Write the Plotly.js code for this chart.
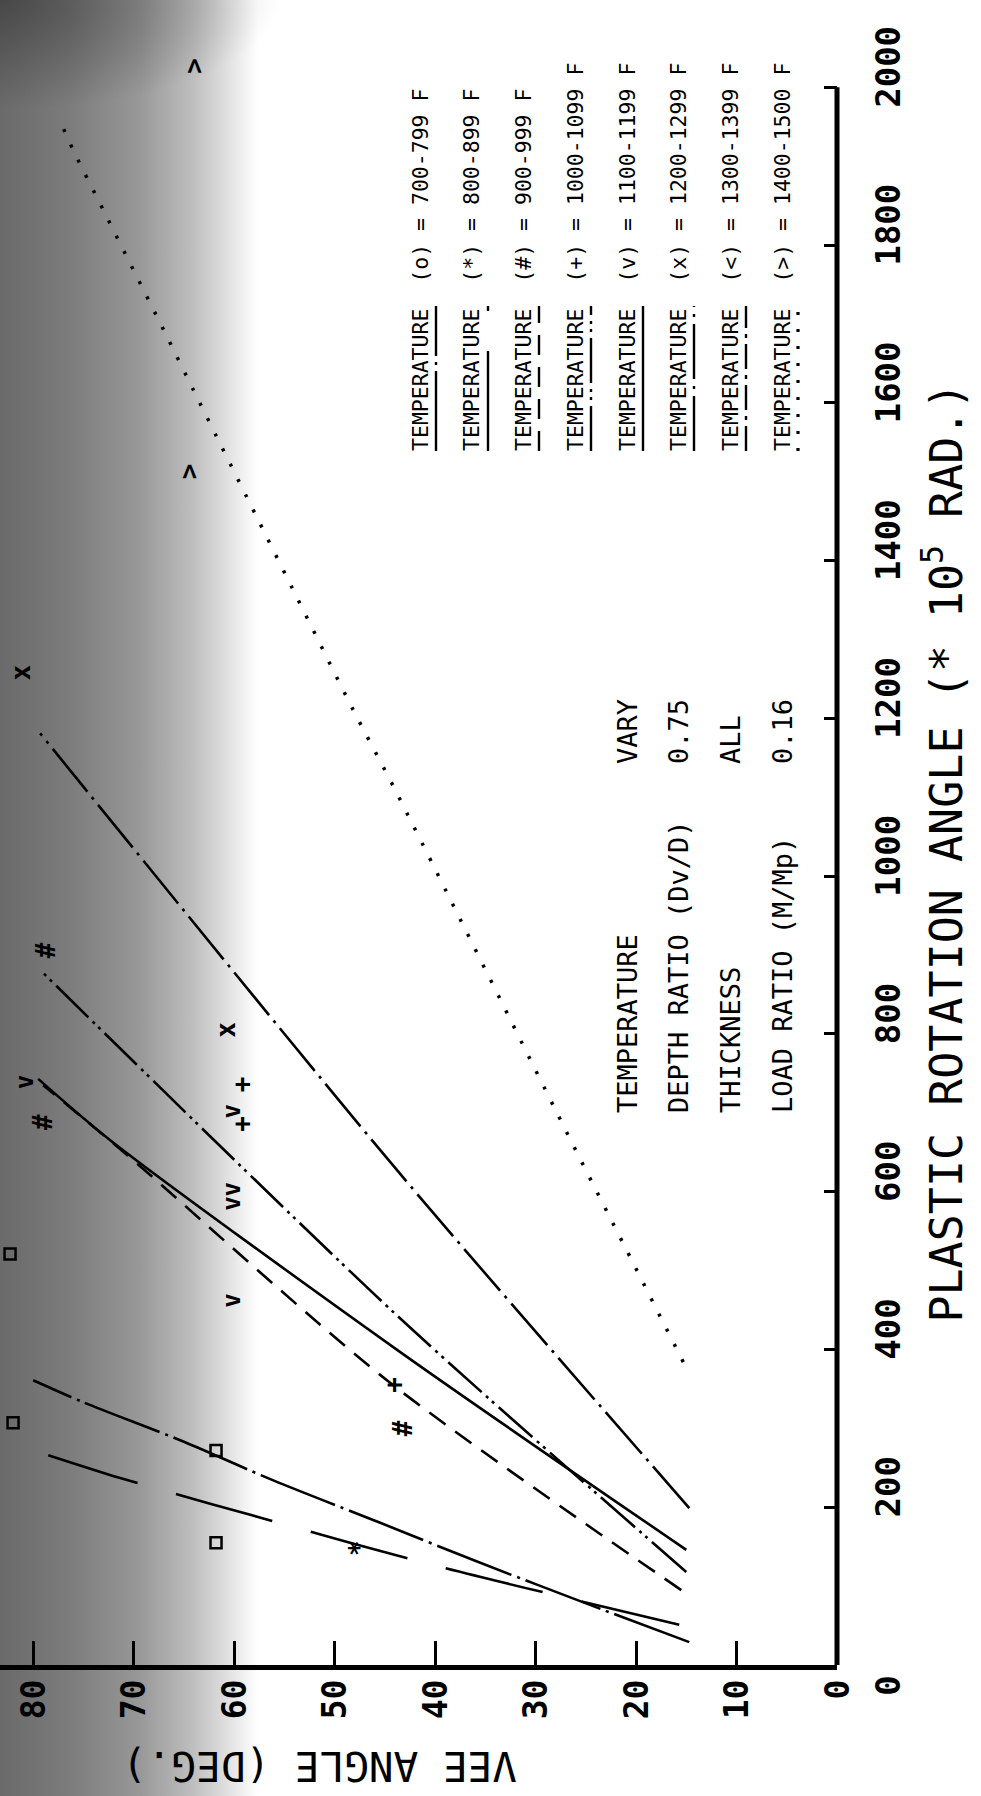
<!DOCTYPE html>
<html><head><meta charset="utf-8">
<script src="https://cdn.plot.ly/plotly-3.0.1.min.js"></script>
<style>
html,body{margin:0;padding:0;width:981px;height:1796px;overflow:hidden;}
body{background:
  radial-gradient(ellipse 280px 110px at 0px 0px, rgba(30,30,30,0.45), rgba(30,30,30,0)),
  linear-gradient(to right,#6a6a6a 0px,#7c7c7c 70px,#989898 140px,#c0c0c0 195px,#e8e8e8 235px,#ffffff 258px);}
#wrap{position:absolute;left:0;top:0;width:1796px;height:981px;transform-origin:0 0;transform:translate(0px,1796px) rotate(-90deg);}
</style></head><body><div id="wrap"><div id="chart"></div></div>
<script>
// ---- data (x = plastic rotation angle *1e5 rad, y = vee angle deg) ----
const xTicks = [0,200,400,600,800,1000,1200,1400,1600,1800,2000];
const yTicks = [0,10,20,30,40,50,60,70,80];

const t700_x = [29,70,133,180,234,283,333,361];
const t700_y = [14.7,23.3,36.2,45.4,56.1,65.0,75.0,80.0];
const t800_x = [51,127,190,224,238,266];
const t800_y = [15.7,40.3,58.3,67.8,71.6,78.5];
const t900_x = [95,360,646,735];
const t900_y = [15.5,44.7,70.6,79.0];
const t1000_x = [118,442,881];
const t1000_y = [15.0,43.7,79.3];
const t1100_x = [146,397,665,743];
const t1100_y = [15.0,43.5,72.3,79.5];
const t1200_x = [199,626,1181];
const t1200_y = [14.7,43.7,79.3];
const t1400_x = [384,530,655,1110,1212,1352,1454,1556,1615,1692,1768,1844,1920,1957];
const t1400_y = [15.3,21.1,26.1,44.0,48.2,53.7,57.7,61.7,64.0,67.0,70.0,73.0,76.0,77.3];

const p700_x = [155,272,307,521];   const p700_y = [61.8,61.8,82.0,82.3];
const p800_x = [148];               const p800_y = [47.3];
const p900_x = [300,688,906];       const p900_y = [42.9,78.8,78.5];
const p1000_x = [355,686,736];      const p1000_y = [43.8,59.0,59.0];
const p1100_x = [462,585,603,702,739]; const p1100_y = [60.0,60.0,60.0,60.0,80.6];
const p1200_x = [805,1258];         const p1200_y = [60.6,81.0];
const p1400_x = [1513,2027];        const p1400_y = [64.2,63.7];

const legendRanges = ['700-799','800-899','900-999','1000-1099','1100-1199','1200-1299','1300-1399','1400-1500'];
const legendSymbols = ['o','*','#','+','v','x','&lt;','&gt;'];
const paramLabels = ['TEMPERATURE','DEPTH RATIO (Dv/D)','THICKNESS','LOAD RATIO (M/Mp)'];
const paramValues = ['VARY','0.75','ALL','0.16'];

// ---- styles ----
const W = 1796, H = 981;
const ML = 131, MR = 40, MT = 0, MB = 144;
const PW = W - ML - MR, PH = H - MT - MB;
const px = u => (u - ML) / PW;
const py = v => (MT + PH - v) / PH;
const MONO = 'DejaVu Sans Mono';
const NB = '\u00a0';
const dashes = ['80px,6px,3px,6px','100px,40px','20px,12px','45px,6px,3px,5px,3px,6px','solid','55px,7px,3px,7px','25px,6px,4px,6px','3px,14px'];

function lineTrace(x, y, dash, w) {
  return {x:x, y:y, mode:'lines', type:'scatter', cliponaxis:false, hoverinfo:'skip',
    line:{color:'#000', width:w||2.6, dash:dash, shape:'spline', smoothing:0.8}};
}
function textTrace(x, y, ch, size) {
  return {x:x, y:y, mode:'text', type:'scatter', cliponaxis:false, hoverinfo:'skip',
    text:x.map(()=>ch), textposition:'middle center',
    textfont:{family:MONO, size:size||24, color:'#000', weight:'bold'}};
}

const traces = [
  lineTrace(t700_x, t700_y, dashes[0]),
  lineTrace(t800_x, t800_y, dashes[1]),
  lineTrace(t900_x, t900_y, dashes[2]),
  lineTrace(t1000_x, t1000_y, dashes[3]),
  lineTrace(t1100_x, t1100_y, dashes[4]),
  lineTrace(t1200_x, t1200_y, dashes[5]),
  lineTrace(t1400_x, t1400_y, dashes[7], 3.5),
  {x:p700_x, y:p700_y, mode:'markers', type:'scatter', cliponaxis:false, hoverinfo:'skip',
   marker:{symbol:'square-open', size:11, color:'#000', line:{width:2.5, color:'#000'}}},
  textTrace(p800_x, p800_y, '*', 26),
  textTrace(p900_x, p900_y, '#', 26),
  textTrace(p1000_x, p1000_y, '+', 26),
  textTrace(p1100_x, p1100_y, 'v', 24),
  textTrace(p1200_x, p1200_y, 'x', 26),
  textTrace(p1400_x, p1400_y, '&gt;', 26)
];

const legendRowV = [420,472,523,575,627,678,730,782];
const annotations = [];
const shapes = [
  {type:'line', xref:'x', yref:'paper', x0:0, x1:2000, y0:0, y1:0, line:{color:'#000', width:5}}
];
legendRanges.forEach((r, i) => {
  annotations.push({xref:'paper', yref:'paper', x:px(1343), y:py(legendRowV[i]), xanchor:'left', yanchor:'middle',
    showarrow:false, text:'TEMPERATURE'+NB+NB+'('+legendSymbols[i]+')'+NB+'='+NB+r+NB+'F',
    font:{family:MONO, size:21.5, color:'#000'}});
  shapes.push({type:'line', xref:'paper', yref:'paper', x0:px(1345), x1:px(1490),
    y0:py(legendRowV[i]+16), y1:py(legendRowV[i]+16),
    line:{color:'#000', width:i===7?3.2:2.4, dash:dashes[i]}});
});
paramLabels.forEach((lab, i) => {
  const v = [627,678,730,782][i];
  annotations.push({xref:'paper', yref:'paper', x:px(681), y:py(v), xanchor:'left', yanchor:'middle',
    showarrow:false, text:lab, font:{family:MONO, size:27, color:'#000'}});
  annotations.push({xref:'paper', yref:'paper', x:px(1030), y:py(v), xanchor:'left', yanchor:'middle',
    showarrow:false, text:paramValues[i], font:{family:MONO, size:27, color:'#000'}});
});
annotations.push({xref:'paper', yref:'paper', x:px(30), y:py(320), xanchor:'center', yanchor:'middle',
  showarrow:false, textangle:-90, text:'VEE ANGLE (DEG.)', font:{family:MONO, size:41, color:'#000'}});

const xTickText = xTicks.map(v => v === 0 ? '0'+NB+NB : NB+NB+String(v));

const layout = {
  width:W, height:H, margin:{l:ML, r:MR, t:MT, b:MB, pad:0},
  paper_bgcolor:'rgba(0,0,0,0)', plot_bgcolor:'rgba(0,0,0,0)',
  showlegend:false,
  xaxis:{range:[0,2060], tickvals:xTicks, ticktext:xTickText, ticks:'inside', ticklen:13, tickwidth:3,
    tickcolor:'#000', showline:false, showgrid:false, zeroline:false,
    ticklabelstandoff:28,
    tickfont:{family:MONO, size:34, color:'#000', weight:'bold'},
    title:{text:'PLASTIC ROTATION ANGLE (* 10<sup>5</sup> RAD.)', standoff:23, font:{family:MONO, size:45, color:'#000'}}},
  yaxis:{range:[0,83.3], tickvals:yTicks, ticktext:yTicks.map(String), ticks:'inside', ticklen:24, tickwidth:3,
    tickcolor:'#000', showline:true, linewidth:5, linecolor:'#000', showgrid:false, zeroline:false,
    ticklabelstandoff:3,
    tickfont:{family:MONO, size:33, color:'#000', weight:'bold'}},
  annotations:annotations, shapes:shapes
};
Plotly.newPlot('chart', traces, layout, {staticPlot:true, displayModeBar:false});
</script></body></html>
